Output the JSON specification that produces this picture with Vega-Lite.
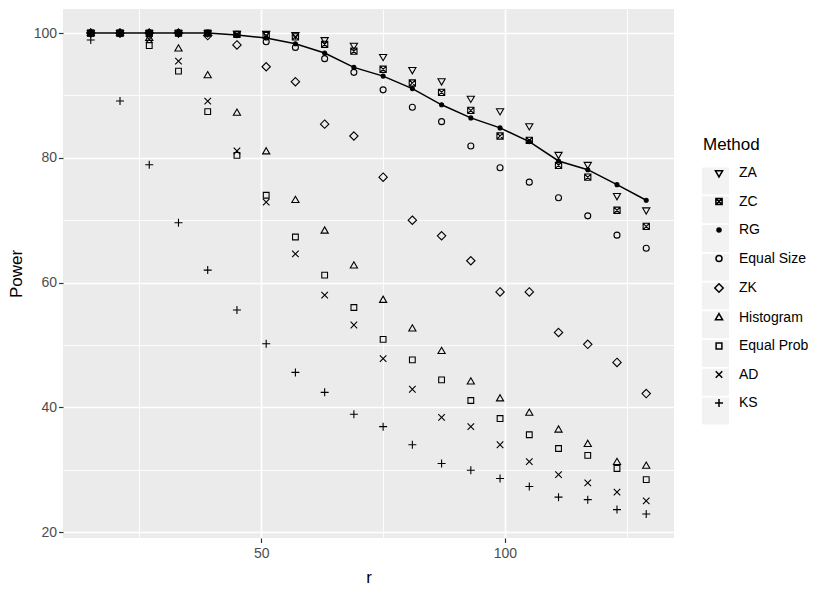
{
  "$schema": "https://vega.github.io/schema/vega-lite/v6.json",
  "autosize": {"type": "none"},
  "width": 611,
  "height": 529,
  "padding": {"left": 63, "top": 9, "right": 156, "bottom": 55},
  "background": "white",
  "config": {
    "view": {"fill": "#EBEBEB", "stroke": null},
    "font": "Liberation Sans",
    "axis": {
      "domain": false,
      "labelFontSize": 14,
      "labelColor": "#4D4D4D",
      "titleFontSize": 17,
      "titleFontWeight": "normal",
      "titleColor": "black",
      "tickColor": "#333333",
      "tickWidth": 1.2,
      "tickSize": 4.5,
      "gridColor": "white"
    }
  },
  "data": {"values": [
    {"r":15,"Method":"ZA","Power":100},{"r":21,"Method":"ZA","Power":100},{"r":27,"Method":"ZA","Power":100},{"r":33,"Method":"ZA","Power":100},{"r":39,"Method":"ZA","Power":100},{"r":45,"Method":"ZA","Power":99.9},{"r":51,"Method":"ZA","Power":99.9},{"r":57,"Method":"ZA","Power":99.7},{"r":63,"Method":"ZA","Power":98.9},{"r":69,"Method":"ZA","Power":98.0},{"r":75,"Method":"ZA","Power":96.2},{"r":81,"Method":"ZA","Power":94.1},{"r":87,"Method":"ZA","Power":92.3},{"r":93,"Method":"ZA","Power":89.5},{"r":99,"Method":"ZA","Power":87.5},{"r":105,"Method":"ZA","Power":85.1},{"r":111,"Method":"ZA","Power":80.5},{"r":117,"Method":"ZA","Power":78.9},{"r":123,"Method":"ZA","Power":73.9},{"r":129,"Method":"ZA","Power":71.6},
    {"r":15,"Method":"ZC","Power":100},{"r":21,"Method":"ZC","Power":100},{"r":27,"Method":"ZC","Power":100},{"r":33,"Method":"ZC","Power":100},{"r":39,"Method":"ZC","Power":100},{"r":45,"Method":"ZC","Power":99.8},{"r":51,"Method":"ZC","Power":99.6},{"r":57,"Method":"ZC","Power":99.4},{"r":63,"Method":"ZC","Power":98.2},{"r":69,"Method":"ZC","Power":97.1},{"r":75,"Method":"ZC","Power":94.2},{"r":81,"Method":"ZC","Power":92.0},{"r":87,"Method":"ZC","Power":90.5},{"r":93,"Method":"ZC","Power":87.6},{"r":99,"Method":"ZC","Power":83.5},{"r":105,"Method":"ZC","Power":82.8},{"r":111,"Method":"ZC","Power":78.8},{"r":117,"Method":"ZC","Power":76.9},{"r":123,"Method":"ZC","Power":71.6},{"r":129,"Method":"ZC","Power":69.0},
    {"r":15,"Method":"RG","Power":100},{"r":21,"Method":"RG","Power":100},{"r":27,"Method":"RG","Power":100},{"r":33,"Method":"RG","Power":100},{"r":39,"Method":"RG","Power":100},{"r":45,"Method":"RG","Power":99.7},{"r":51,"Method":"RG","Power":99.2},{"r":57,"Method":"RG","Power":98.3},{"r":63,"Method":"RG","Power":96.8},{"r":69,"Method":"RG","Power":94.5},{"r":75,"Method":"RG","Power":93.1},{"r":81,"Method":"RG","Power":91.1},{"r":87,"Method":"RG","Power":88.5},{"r":93,"Method":"RG","Power":86.4},{"r":99,"Method":"RG","Power":84.8},{"r":105,"Method":"RG","Power":82.6},{"r":111,"Method":"RG","Power":79.5},{"r":117,"Method":"RG","Power":78.1},{"r":123,"Method":"RG","Power":75.7},{"r":129,"Method":"RG","Power":73.2},
    {"r":15,"Method":"Equal Size","Power":100},{"r":21,"Method":"Equal Size","Power":100},{"r":27,"Method":"Equal Size","Power":100},{"r":33,"Method":"Equal Size","Power":100},{"r":39,"Method":"Equal Size","Power":100},{"r":45,"Method":"Equal Size","Power":99.8},{"r":51,"Method":"Equal Size","Power":98.6},{"r":57,"Method":"Equal Size","Power":97.7},{"r":63,"Method":"Equal Size","Power":95.9},{"r":69,"Method":"Equal Size","Power":93.7},{"r":75,"Method":"Equal Size","Power":90.9},{"r":81,"Method":"Equal Size","Power":88.1},{"r":87,"Method":"Equal Size","Power":85.8},{"r":93,"Method":"Equal Size","Power":81.9},{"r":99,"Method":"Equal Size","Power":78.4},{"r":105,"Method":"Equal Size","Power":76.1},{"r":111,"Method":"Equal Size","Power":73.6},{"r":117,"Method":"Equal Size","Power":70.7},{"r":123,"Method":"Equal Size","Power":67.6},{"r":129,"Method":"Equal Size","Power":65.5},
    {"r":15,"Method":"ZK","Power":100},{"r":21,"Method":"ZK","Power":100},{"r":27,"Method":"ZK","Power":100},{"r":33,"Method":"ZK","Power":100},{"r":39,"Method":"ZK","Power":99.6},{"r":45,"Method":"ZK","Power":98.1},{"r":51,"Method":"ZK","Power":94.6},{"r":57,"Method":"ZK","Power":92.2},{"r":63,"Method":"ZK","Power":85.4},{"r":69,"Method":"ZK","Power":83.5},{"r":75,"Method":"ZK","Power":76.9},{"r":81,"Method":"ZK","Power":70.0},{"r":87,"Method":"ZK","Power":67.5},{"r":93,"Method":"ZK","Power":63.5},{"r":99,"Method":"ZK","Power":58.5},{"r":105,"Method":"ZK","Power":58.5},{"r":111,"Method":"ZK","Power":52.0},{"r":117,"Method":"ZK","Power":50.1},{"r":123,"Method":"ZK","Power":47.2},{"r":129,"Method":"ZK","Power":42.2},
    {"r":15,"Method":"Histogram","Power":100},{"r":21,"Method":"Histogram","Power":100},{"r":27,"Method":"Histogram","Power":99.2},{"r":33,"Method":"Histogram","Power":97.5},{"r":39,"Method":"Histogram","Power":93.2},{"r":45,"Method":"Histogram","Power":87.2},{"r":51,"Method":"Histogram","Power":81.0},{"r":57,"Method":"Histogram","Power":73.2},{"r":63,"Method":"Histogram","Power":68.3},{"r":69,"Method":"Histogram","Power":62.7},{"r":75,"Method":"Histogram","Power":57.2},{"r":81,"Method":"Histogram","Power":52.6},{"r":87,"Method":"Histogram","Power":49.0},{"r":93,"Method":"Histogram","Power":44.1},{"r":99,"Method":"Histogram","Power":41.4},{"r":105,"Method":"Histogram","Power":39.1},{"r":111,"Method":"Histogram","Power":36.4},{"r":117,"Method":"Histogram","Power":34.1},{"r":123,"Method":"Histogram","Power":31.2},{"r":129,"Method":"Histogram","Power":30.6},
    {"r":15,"Method":"Equal Prob","Power":100},{"r":21,"Method":"Equal Prob","Power":100},{"r":27,"Method":"Equal Prob","Power":98.0},{"r":33,"Method":"Equal Prob","Power":93.9},{"r":39,"Method":"Equal Prob","Power":87.4},{"r":45,"Method":"Equal Prob","Power":80.4},{"r":51,"Method":"Equal Prob","Power":74.0},{"r":57,"Method":"Equal Prob","Power":67.3},{"r":63,"Method":"Equal Prob","Power":61.2},{"r":69,"Method":"Equal Prob","Power":56.0},{"r":75,"Method":"Equal Prob","Power":50.9},{"r":81,"Method":"Equal Prob","Power":47.6},{"r":87,"Method":"Equal Prob","Power":44.4},{"r":93,"Method":"Equal Prob","Power":41.1},{"r":99,"Method":"Equal Prob","Power":38.2},{"r":105,"Method":"Equal Prob","Power":35.6},{"r":111,"Method":"Equal Prob","Power":33.4},{"r":117,"Method":"Equal Prob","Power":32.3},{"r":123,"Method":"Equal Prob","Power":30.2},{"r":129,"Method":"Equal Prob","Power":28.4},
    {"r":15,"Method":"AD","Power":100},{"r":21,"Method":"AD","Power":100},{"r":27,"Method":"AD","Power":99.0},{"r":33,"Method":"AD","Power":95.5},{"r":39,"Method":"AD","Power":89.1},{"r":45,"Method":"AD","Power":81.1},{"r":51,"Method":"AD","Power":72.9},{"r":57,"Method":"AD","Power":64.6},{"r":63,"Method":"AD","Power":58.0},{"r":69,"Method":"AD","Power":53.2},{"r":75,"Method":"AD","Power":47.8},{"r":81,"Method":"AD","Power":42.9},{"r":87,"Method":"AD","Power":38.4},{"r":93,"Method":"AD","Power":36.9},{"r":99,"Method":"AD","Power":34.0},{"r":105,"Method":"AD","Power":31.3},{"r":111,"Method":"AD","Power":29.2},{"r":117,"Method":"AD","Power":27.9},{"r":123,"Method":"AD","Power":26.4},{"r":129,"Method":"AD","Power":25.0},
    {"r":15,"Method":"KS","Power":98.9},{"r":21,"Method":"KS","Power":89.1},{"r":27,"Method":"KS","Power":78.9},{"r":33,"Method":"KS","Power":69.6},{"r":39,"Method":"KS","Power":62.0},{"r":45,"Method":"KS","Power":55.6},{"r":51,"Method":"KS","Power":50.2},{"r":57,"Method":"KS","Power":45.6},{"r":63,"Method":"KS","Power":42.4},{"r":69,"Method":"KS","Power":38.9},{"r":75,"Method":"KS","Power":36.9},{"r":81,"Method":"KS","Power":34.0},{"r":87,"Method":"KS","Power":31.0},{"r":93,"Method":"KS","Power":29.9},{"r":99,"Method":"KS","Power":28.6},{"r":105,"Method":"KS","Power":27.3},{"r":111,"Method":"KS","Power":25.6},{"r":117,"Method":"KS","Power":25.2},{"r":123,"Method":"KS","Power":23.6},{"r":129,"Method":"KS","Power":22.9}
  ]},
  "encoding": {
    "x": {
      "field": "r", "type": "quantitative",
      "scale": {"domain": [9.3, 134.7], "nice": false, "zero": false},
      "axis": {
        "title": "r",
        "values": [25, 50, 75, 100, 125],
        "labelExpr": "datum.value % 50 === 0 ? datum.label : ''",
        "tickOpacity": {"condition": {"test": "datum.value % 50 === 0", "value": 1}, "value": 0},
        "gridWidth": {"condition": {"test": "datum.value % 50 === 0", "value": 1.7}, "value": 0.85},
        "labelPadding": 3.5,
        "titlePadding": 9
      }
    },
    "y": {
      "field": "Power", "type": "quantitative",
      "scale": {"domain": [19.05, 103.86], "nice": false, "zero": false},
      "axis": {
        "title": "Power",
        "values": [20, 30, 40, 50, 60, 70, 80, 90, 100],
        "labelExpr": "datum.value % 20 === 0 ? datum.label : ''",
        "tickOpacity": {"condition": {"test": "datum.value % 20 === 0", "value": 1}, "value": 0},
        "gridWidth": {"condition": {"test": "datum.value % 20 === 0", "value": 1.7}, "value": 0.85},
        "labelPadding": 2,
        "titlePadding": 8
      }
    }
  },
  "layer": [
    {
      "transform": [{"filter": "datum.Method === 'RG'"}],
      "mark": {"type": "line", "color": "black", "strokeWidth": 1.5}
    },
    {
      "mark": {"type": "point", "stroke": "black", "strokeWidth": 1.1, "size": 64},
      "encoding": {
        "shape": {
          "field": "Method", "type": "nominal",
          "scale": {
            "domain": ["ZA", "ZC", "RG", "Equal Size", "ZK", "Histogram", "Equal Prob", "AD", "KS"],
            "range": [
              "M-0.9,-0.58L0.9,-0.58L0,0.98Z",
              "M-0.78,-0.78H0.78V0.78H-0.78ZM-0.78,-0.78L0.78,0.78M-0.78,0.78L0.78,-0.78",
              "M0.5,0A0.5,0.5,0,1,1,-0.5,0A0.5,0.5,0,1,1,0.5,0Z",
              "M0.75,0A0.75,0.75,0,1,1,-0.75,0A0.75,0.75,0,1,1,0.75,0Z",
              "M0,-1.05L1.05,0L0,1.05L-1.05,0Z",
              "M0,-0.98L0.9,0.58L-0.9,0.58Z",
              "M-0.72,-0.72H0.72V0.72H-0.72Z",
              "M-0.82,-0.82L0.82,0.82M-0.82,0.82L0.82,-0.82",
              "M-1,0H1M0,-1V1"
            ]
          },
          "legend": {
            "title": "Method",
            "orient": "none",
            "legendX": 640,
            "legendY": 128,
            "zindex": 2,
            "titleFontSize": 17,
            "titleFontWeight": "normal",
            "titleColor": "black",
            "labelFontSize": 14,
            "labelColor": "black",
            "titlePadding": 12,
            "rowPadding": 14.5,
            "symbolSize": 64,
            "symbolOffset": 9,
            "labelOffset": 13,
            "symbolOpacity": 1,
            "encode": {
              "symbols": {"update": {"stroke": {"value": "black"}, "strokeWidth": {"value": 1.1}, "opacity": {"value": 1}}}
            }
          }
        },
        "fill": {
          "field": "Method", "type": "nominal",
          "scale": {
            "domain": ["ZA", "ZC", "RG", "Equal Size", "ZK", "Histogram", "Equal Prob", "AD", "KS"],
            "range": ["transparent", "transparent", "black", "transparent", "transparent", "transparent", "transparent", "transparent", "transparent"]
          }
        },
        "opacity": {
          "field": "Method", "type": "nominal",
          "scale": {
            "domain": ["ZA", "ZC", "RG", "Equal Size", "ZK", "Histogram", "Equal Prob", "AD", "KS", "_"],
            "range": [1, 1]
          },
          "legend": {
            "title": null,
            "orient": "none",
            "legendX": 639,
            "legendY": 158.5,
            "zindex": 0,
            "values": ["ZA", "ZC", "RG", "Equal Size", "ZK", "Histogram", "Equal Prob", "AD", "KS"],
            "symbolType": "square",
            "symbolSize": 729,
            "symbolFillColor": "#F2F2F2",
            "symbolStrokeColor": "#F2F2F2",
            "symbolStrokeWidth": 0,
            "symbolOpacity": 1,
            "rowPadding": 1.75,
            "labelFontSize": 14,
            "labelExpr": "''"
          }
        }
      }
    }
  ]
}
